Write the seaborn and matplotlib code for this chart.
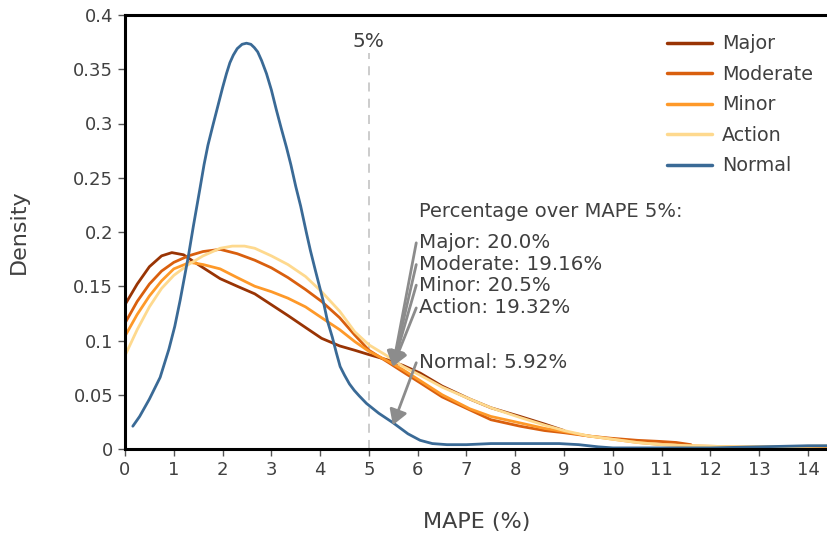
"""Density of MAPE (%) per flood stage, with share of points over the 5% threshold."""
import pandas as pd
import matplotlib
matplotlib.use('Agg')
import matplotlib.pyplot as plt
from matplotlib.ticker import FuncFormatter
import seaborn as sns

# curve values (x = MAPE %, y = density)
normal_x = [0.16, 0.3, 0.5, 0.72, 0.9, 1.02, 1.13, 1.3, 1.4, 1.54, 1.62, 1.7, 1.8, 1.88, 2.0,
            2.08, 2.15, 2.22, 2.3, 2.4, 2.49, 2.58, 2.65, 2.72, 2.8, 2.9, 3.0, 3.1, 3.2, 3.31,
            3.4, 3.5, 3.6, 3.72, 3.8, 3.9, 4.06, 4.15, 4.25, 4.33, 4.41, 4.5, 4.6, 4.7, 4.8,
            4.95, 5.2, 5.5, 5.8, 6.05, 6.3, 6.6, 7.0, 7.5, 8.0, 8.5, 8.9, 9.3, 9.7, 10.0,
            11.0, 12.0, 13.0, 14.0, 14.41]
normal_y = [0.021, 0.030, 0.046, 0.066, 0.092, 0.113, 0.137, 0.178, 0.205, 0.241, 0.262, 0.280,
            0.298, 0.312, 0.333, 0.346, 0.356, 0.363, 0.369, 0.373, 0.374, 0.373, 0.370, 0.366,
            0.358, 0.346, 0.331, 0.313, 0.296, 0.278, 0.262, 0.242, 0.224, 0.199, 0.183, 0.165,
            0.137, 0.118, 0.103, 0.089, 0.076, 0.068, 0.060, 0.054, 0.049, 0.042, 0.033, 0.024,
            0.014, 0.008, 0.005, 0.004, 0.004, 0.005, 0.005, 0.005, 0.005, 0.004, 0.002, 0.001,
            0.001, 0.001, 0.002, 0.003, 0.003]

major_x = [0, 0.25, 0.5, 0.75, 0.96, 1.2, 1.5, 1.95, 2.3, 2.66, 3.0, 3.34, 3.7, 4.03, 4.4,
           4.71, 5.0, 5.39, 5.7, 6.05, 6.5, 7.07, 7.5, 8.1, 8.6, 9.0]
major_y = [0.133, 0.152, 0.168, 0.178, 0.181, 0.179, 0.170, 0.157, 0.150, 0.143, 0.133, 0.123,
           0.112, 0.102, 0.095, 0.091, 0.087, 0.082, 0.077, 0.070, 0.058, 0.046, 0.038, 0.030,
           0.023, 0.017]

moderate_x = [0, 0.25, 0.5, 0.75, 1.0, 1.3, 1.6, 1.95, 2.3, 2.66, 3.0, 3.34, 3.7, 4.03, 4.4,
              4.71, 5.0, 5.39, 5.7, 6.05, 6.5, 7.07, 7.5, 8.1, 8.6, 9.0, 9.5, 9.94, 10.5,
              10.96, 11.3, 11.6]
moderate_y = [0.116, 0.136, 0.152, 0.164, 0.172, 0.178, 0.182, 0.184, 0.180, 0.174, 0.167,
              0.158, 0.147, 0.136, 0.121, 0.105, 0.091, 0.080, 0.071, 0.061, 0.048, 0.036,
              0.027, 0.021, 0.017, 0.015, 0.012, 0.010, 0.008, 0.007, 0.006, 0.004]

minor_x = [0, 0.25, 0.5, 0.75, 1.0, 1.33, 1.6, 1.95, 2.3, 2.66, 3.0, 3.34, 3.7, 4.03, 4.4,
           4.71, 5.0, 5.39, 5.7, 6.05, 6.5, 7.07, 7.5, 8.1, 8.6, 9.0, 9.5, 10.0, 10.5, 11.0,
           11.6, 12.5, 13.5, 14.41]
minor_y = [0.104, 0.124, 0.141, 0.155, 0.166, 0.172, 0.170, 0.166, 0.158, 0.150, 0.145, 0.139,
           0.131, 0.121, 0.110, 0.099, 0.090, 0.081, 0.073, 0.063, 0.050, 0.037, 0.030, 0.024,
           0.019, 0.016, 0.012, 0.009, 0.006, 0.004, 0.003, 0.002, 0.002, 0.002]

action_x = [0, 0.25, 0.5, 0.75, 1.0, 1.3, 1.6, 1.95, 2.2, 2.45, 2.66, 3.0, 3.34, 3.7, 4.03,
            4.4, 4.71, 5.0, 5.33, 5.7, 6.05, 6.5, 7.07, 7.5, 8.1, 8.6, 9.0, 9.5, 10.0, 10.5,
            11.0, 11.6, 12.5, 13.5, 14.41]
action_y = [0.086, 0.110, 0.131, 0.148, 0.160, 0.170, 0.178, 0.185, 0.187, 0.187, 0.185, 0.178,
            0.170, 0.159, 0.145, 0.127, 0.108, 0.096, 0.087, 0.076, 0.068, 0.057, 0.046, 0.038,
            0.029, 0.022, 0.017, 0.012, 0.009, 0.006, 0.004, 0.003, 0.002, 0.002, 0.003]

stages = ['Major', 'Moderate', 'Minor', 'Action', 'Normal']
over_5 = ['20.0%', '19.16%', '20.5%', '19.32%', '5.92%']
colors = {'Major': '#993404', 'Moderate': '#d95f0e', 'Minor': '#fe9929',
          'Action': '#fed98e', 'Normal': '#3a6a96'}


def build_frame():
    parts = []
    for name, xs, ys in [('Major', major_x, major_y), ('Moderate', moderate_x, moderate_y),
                         ('Minor', minor_x, minor_y), ('Action', action_x, action_y),
                         ('Normal', normal_x, normal_y)]:
        parts.append(pd.DataFrame({'mape': xs, 'density': ys, 'stage': name}))
    return pd.concat(parts, ignore_index=True)


def main():
    df = build_frame()
    sns.set_style('white')
    plt.rcParams['font.family'] = ['DejaVu Sans']
    text_c = '#404040'

    fig = plt.figure(figsize=(8.28, 5.33), dpi=100)
    ax = fig.add_axes([125 / 828, 1 - 449 / 533, 1 - 125 / 828, (449 - 15) / 533])

    ax.vlines(5, 0, 0.365, colors='#c8c8c8', linestyles=(0, (5, 4)), lw=1.3)
    ax.text(5, 0.376, '5%', ha='center', va='center', fontsize=14.5, color=text_c)

    sns.lineplot(data=df, x='mape', y='density', hue='stage', hue_order=stages,
                 palette=colors, sort=False, estimator=None, lw=2, ax=ax)

    # annotation block
    ax.text(6.03, 0.219, 'Percentage over MAPE 5%:', ha='left', va='center',
            fontsize=14, color=text_c)
    label_y = [0.190, 0.170, 0.151, 0.130, 0.0795]
    for name, pct, ty in zip(stages, over_5, label_y):
        ax.text(6.03, ty, f'{name}: {pct}', ha='left', va='center', fontsize=14.3, color=text_c)
        target = 0.022 if name == 'Normal' else 0.076
        ax.annotate('', xy=(5.49, target), xytext=(5.97, ty),
                    arrowprops=dict(arrowstyle='-|>,head_length=0.45,head_width=0.27',
                                    color='#8c8c8c', lw=2, mutation_scale=20,
                                    shrinkA=0, shrinkB=0))

    ax.set_xlim(0, 14.41)
    ax.set_ylim(0, 0.4)
    ax.set_xticks(range(0, 15))
    ax.set_yticks([0, 0.05, 0.1, 0.15, 0.2, 0.25, 0.3, 0.35, 0.4])
    ax.yaxis.set_major_formatter(FuncFormatter(lambda v, p: f'{v:g}'))
    ax.tick_params(axis='both', direction='out', length=5, width=1, colors='#555555',
                   labelsize=13, labelcolor=text_c, bottom=True, left=True)
    ax.set_xlabel('MAPE (%)', fontsize=16, color=text_c, labelpad=24)
    ax.set_ylabel('Density', fontsize=16, color=text_c, labelpad=32)

    for side in ['left', 'bottom', 'top']:
        ax.spines[side].set_color('black')
        ax.spines[side].set_linewidth(2.2)
    ax.spines['right'].set_visible(False)

    leg = ax.legend(frameon=False, loc='upper left', bbox_to_anchor=(650 / 828, 1 - 17 / 533),
                    bbox_transform=fig.transFigure, fontsize=13.8, handlelength=2.35,
                    labelspacing=0.6, handletextpad=0.5)
    for t in leg.get_texts():
        t.set_color(text_c)
    for h in leg.get_lines():
        h.set_linewidth(2.5)

    fig.savefig('out.png', dpi=100)
    plt.close(fig)


if __name__ == '__main__':
    main()
